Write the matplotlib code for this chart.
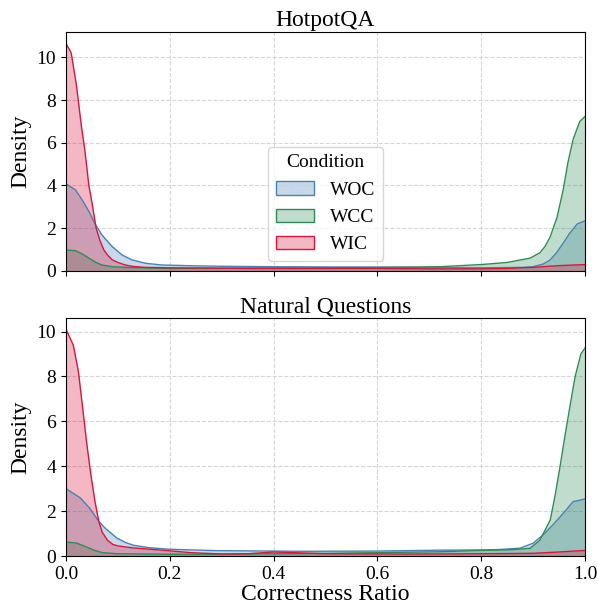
import matplotlib
matplotlib.use("Agg")
import matplotlib.pyplot as plt
from matplotlib.colors import to_rgb
from matplotlib.patches import Patch

plt.rcParams['font.family'] = ['Liberation Serif', 'DejaVu Serif']

conditions = ["WOC", "WCC", "WIC"]
colors = {"WOC": "#4682B4", "WCC": "#2E8B57", "WIC": "#DC143C"}

# HotpotQA densities
hq_woc_x = [0, 0.018, 0.031, 0.044, 0.057, 0.069, 0.089, 0.108, 0.127, 0.153, 0.185, 0.25, 0.3, 0.4,
            0.5, 0.6, 0.7, 0.8, 0.85, 0.88, 0.9, 0.92, 0.933, 0.945, 0.958, 0.97, 0.985, 1.0]
hq_woc_y = [4.07, 3.8, 3.33, 2.79, 2.16, 1.69, 1.14, 0.75, 0.52, 0.36, 0.28, 0.24, 0.22, 0.2,
            0.19, 0.18, 0.16, 0.15, 0.16, 0.17, 0.2, 0.33, 0.52, 0.85, 1.3, 1.75, 2.2, 2.35]
hq_wcc_x = [0, 0.018, 0.031, 0.044, 0.057, 0.069, 0.089, 0.121, 0.2, 0.3, 0.4, 0.5, 0.6, 0.72, 0.8,
            0.85, 0.894, 0.913, 0.923, 0.933, 0.946, 0.958, 0.967, 0.977, 0.99, 1.0]
hq_wcc_y = [0.98, 0.95, 0.8, 0.6, 0.41, 0.28, 0.2, 0.16, 0.12, 0.13, 0.14, 0.15, 0.17, 0.2, 0.3,
            0.4, 0.6, 0.85, 1.15, 1.6, 2.5, 3.8, 5.06, 6.15, 7.0, 7.23]
hq_wic_x = [0, 0.01, 0.02, 0.03, 0.036, 0.044, 0.05, 0.058, 0.065, 0.073, 0.08, 0.089, 0.1, 0.114,
            0.13, 0.152, 0.2, 0.3, 0.4, 0.5, 0.6, 0.7, 0.8, 0.85, 0.9, 0.95, 1.0]
hq_wic_y = [10.65, 10.2, 8.7, 6.7, 5.7, 4.0, 3.2, 2.0, 1.45, 0.98, 0.75, 0.52, 0.4, 0.28,
            0.21, 0.17, 0.15, 0.13, 0.12, 0.12, 0.12, 0.1, 0.1, 0.12, 0.17, 0.25, 0.3]

# Natural Questions densities
nq_woc_x = [0, 0.027, 0.045, 0.063, 0.075, 0.098, 0.115, 0.13, 0.16, 0.2, 0.29, 0.45, 0.6, 0.72,
            0.8, 0.835, 0.875, 0.9, 0.919, 0.938, 0.958, 0.977, 1.0]
nq_woc_y = [3.0, 2.6, 2.15, 1.55, 1.25, 0.8, 0.6, 0.48, 0.37, 0.3, 0.24, 0.21, 0.22, 0.26,
            0.27, 0.29, 0.35, 0.57, 0.94, 1.38, 1.9, 2.42, 2.54]
nq_wcc_x = [0, 0.02, 0.04, 0.055, 0.07, 0.1, 0.2, 0.3, 0.4, 0.5, 0.6, 0.72, 0.8, 0.85, 0.894,
            0.913, 0.933, 0.942, 0.952, 0.961, 0.971, 0.981, 0.992, 1.0]
nq_wcc_y = [0.62, 0.58, 0.4, 0.25, 0.15, 0.1, 0.08, 0.08, 0.1, 0.12, 0.15, 0.19, 0.25, 0.27, 0.34,
            0.7, 1.6, 2.65, 4.0, 5.3, 6.67, 8.0, 9.0, 9.27]
nq_wic_x = [0, 0.014, 0.024, 0.032, 0.04, 0.048, 0.056, 0.063, 0.07, 0.08, 0.09, 0.1, 0.13, 0.18,
            0.24, 0.3, 0.35, 0.4, 0.45, 0.5, 0.6, 0.7, 0.8, 0.9, 0.95, 1.0]
nq_wic_y = [10.1, 9.4, 8.2, 6.6, 5.0, 3.6, 2.4, 1.55, 1.05, 0.7, 0.52, 0.45, 0.36, 0.27,
            0.15, 0.09, 0.1, 0.18, 0.14, 0.1, 0.09, 0.09, 0.1, 0.12, 0.18, 0.25]

panels = [
    ("HotpotQA", {"WOC": (hq_woc_x, hq_woc_y), "WCC": (hq_wcc_x, hq_wcc_y), "WIC": (hq_wic_x, hq_wic_y)}),
    ("Natural Questions", {"WOC": (nq_woc_x, nq_woc_y), "WCC": (nq_wcc_x, nq_wcc_y), "WIC": (nq_wic_x, nq_wic_y)}),
]

fig = plt.figure(figsize=(5.97, 6.08), dpi=100)
ax_top = fig.add_axes([0.1106, 0.5543, 0.8693, 0.3931])
ax_bot = fig.add_axes([0.1106, 0.0855, 0.8693, 0.3914], sharex=ax_top)

for ax, (title, curves) in zip([ax_top, ax_bot], panels):
    for cond in conditions:
        xs, ys = curves[cond]
        ax.fill_between(xs, 0, ys, color=colors[cond], alpha=0.3, linewidth=0)
        ax.plot(xs, ys, color=colors[cond], linewidth=1.0)
    ax.set_xlim(0, 1)
    ax.set_ylim(bottom=0)
    ax.set_yticks([0, 2, 4, 6, 8, 10])
    ax.set_xticks([0, 0.2, 0.4, 0.6, 0.8, 1.0])
    ax.grid(True, linestyle='--', color='#cccccc', linewidth=0.8, alpha=0.8)
    ax.set_axisbelow(True)
    ax.set_title(title, fontsize=17, pad=4)
    ax.set_ylabel("Density", fontsize=17)
    ax.tick_params(labelsize=14)
    for sp in ax.spines.values():
        sp.set_color('black')

ax_top.tick_params(labelbottom=False)
ax_bot.set_xlabel("Correctness Ratio", fontsize=17, labelpad=1)

handles = [Patch(facecolor=(*to_rgb(colors[c]), 0.3), edgecolor=colors[c], linewidth=1.0)
           for c in conditions]
ax_top.legend(handles, conditions, title="Condition", loc='lower center',
              fontsize=14, title_fontsize=14, frameon=True)

fig.savefig("out.png", dpi=100)
